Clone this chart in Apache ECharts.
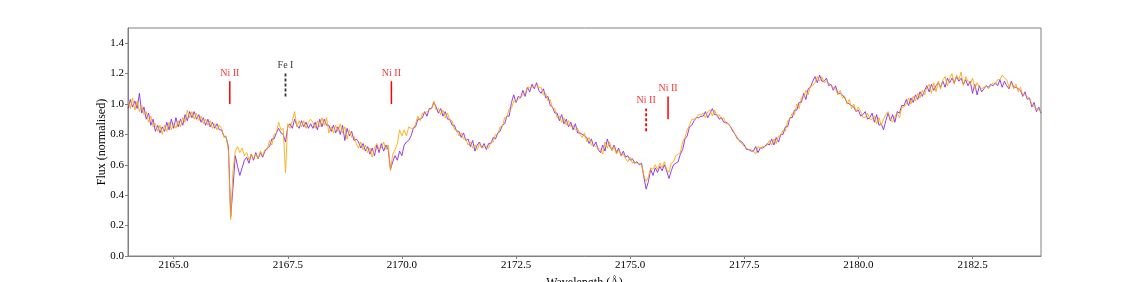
<!DOCTYPE html>
<html>
<head>
<meta charset="utf-8">
<script src="https://cdn.jsdelivr.net/npm/echarts@6/dist/echarts.min.js"></script>
<style>
html,body{margin:0;padding:0;background:#fff;}
#chart{width:1140px;height:282px;}
</style>
</head>
<body>
<div id="chart"></div>
<script>
// Wavelength grid (Å)
const waveStart = 2164.0;
const waveStep = 0.05;

// Spectrum 1 (purple)
const fluxPurple = [
0.97,1.03,0.98,1.02,0.97,1.07,0.94,0.98,0.90,0.94,0.86,0.90,0.82,0.86,0.81,0.85,0.82,0.88,0.83,0.90,0.84,
0.91,0.85,0.90,0.86,0.93,0.89,0.95,0.91,0.95,0.90,0.93,0.88,0.91,0.86,0.90,0.85,0.88,0.84,0.87,0.83,
0.83,0.79,0.78,0.72,0.26,0.45,0.66,0.59,0.53,0.58,0.63,0.65,0.61,0.67,0.63,0.68,0.64,0.68,0.65,0.69,
0.71,0.72,0.77,0.77,0.81,0.84,0.81,0.80,0.75,0.85,0.87,0.84,0.90,0.86,0.84,0.89,0.85,0.88,0.84,0.87,
0.84,0.88,0.83,0.90,0.85,0.90,0.86,0.86,0.82,0.86,0.81,0.85,0.80,0.86,0.76,0.84,0.79,0.82,0.76,0.77,
0.75,0.71,0.74,0.69,0.72,0.67,0.71,0.66,0.73,0.68,0.74,0.69,0.73,0.70,0.57,0.62,0.66,0.63,0.69,0.66,
0.73,0.75,0.76,0.79,0.84,0.85,0.90,0.90,0.91,0.95,0.92,0.97,0.97,1.01,0.98,0.94,0.97,0.92,0.95,0.90,
0.90,0.86,0.86,0.82,0.82,0.78,0.81,0.76,0.77,0.72,0.76,0.69,0.73,0.75,0.71,0.74,0.70,0.74,0.74,0.78,
0.77,0.81,0.82,0.86,0.87,0.92,0.92,1.01,1.06,1.01,1.05,1.04,1.09,1.05,1.11,1.08,1.13,1.10,1.14,1.09,
1.07,1.10,1.04,1.05,0.99,0.98,0.94,0.94,0.89,0.93,0.87,0.90,0.85,0.88,0.83,0.87,0.81,0.81,0.80,0.79,
0.78,0.74,0.77,0.72,0.75,0.70,0.68,0.73,0.69,0.77,0.72,0.70,0.73,0.68,0.71,0.66,0.69,0.65,0.66,0.63,
0.64,0.61,0.62,0.60,0.61,0.52,0.44,0.49,0.57,0.53,0.58,0.55,0.59,0.56,0.60,0.56,0.51,0.56,0.60,0.61,
0.62,0.67,0.70,0.77,0.79,0.85,0.86,0.89,0.91,0.91,0.92,0.92,0.95,0.91,0.94,0.97,0.93,0.93,0.90,0.91,
0.88,0.88,0.87,0.85,0.82,0.80,0.77,0.76,0.75,0.73,0.70,0.70,0.69,0.69,0.72,0.68,0.71,0.71,0.72,0.74,
0.73,0.77,0.73,0.78,0.75,0.80,0.80,0.85,0.85,0.91,0.91,0.96,0.96,1.01,1.01,1.07,1.03,1.10,1.11,1.15,
1.18,1.14,1.19,1.15,1.15,1.17,1.12,1.13,1.09,1.12,1.07,1.07,1.06,1.04,1.01,1.00,0.99,0.98,0.95,0.96,
0.92,0.93,0.95,0.90,0.91,0.94,0.88,0.93,0.86,0.87,0.83,0.89,0.94,0.89,0.93,0.88,0.95,0.94,0.99,0.99,
1.03,0.99,1.04,1.01,1.06,1.03,1.08,1.05,1.09,1.12,1.08,1.13,1.09,1.12,1.14,1.11,1.15,1.11,1.17,1.14,
1.17,1.14,1.18,1.15,1.17,1.13,1.16,1.12,1.15,1.07,1.13,1.06,1.12,1.08,1.10,1.12,1.11,1.13,1.12,1.14,
1.12,1.16,1.11,1.15,1.12,1.10,1.15,1.11,1.11,1.10,1.09,1.05,1.08,1.03,1.04,0.98,1.01,0.95,0.98,0.94
];

// Spectrum 2 (orange)
const fluxOrange = [
1.02,0.97,1.04,0.96,1.02,0.95,0.99,0.93,0.95,0.88,0.92,0.85,0.87,0.82,0.86,0.80,0.86,0.82,0.88,0.83,0.87,
0.84,0.89,0.85,0.91,0.88,0.96,0.91,0.95,0.90,0.94,0.89,0.92,0.87,0.90,0.86,0.89,0.84,0.87,0.83,0.86,
0.84,0.78,0.79,0.69,0.24,0.56,0.69,0.72,0.68,0.71,0.66,0.68,0.63,0.67,0.64,0.67,0.64,0.69,0.66,0.70,
0.70,0.76,0.73,0.80,0.81,0.88,0.83,0.84,0.55,0.87,0.84,0.89,0.95,0.85,0.89,0.85,0.89,0.84,0.88,0.90,
0.88,0.84,0.89,0.85,0.91,0.86,0.91,0.81,0.85,0.81,0.86,0.82,0.87,0.81,0.85,0.77,0.83,0.78,0.79,0.74,
0.71,0.75,0.70,0.73,0.68,0.71,0.65,0.71,0.74,0.70,0.71,0.75,0.70,0.73,0.56,0.67,0.70,0.74,0.83,0.79,
0.83,0.79,0.85,0.84,0.84,0.87,0.92,0.89,0.94,0.94,0.95,0.96,0.97,1.02,0.96,0.97,0.93,0.96,0.91,0.94,
0.89,0.89,0.83,0.83,0.79,0.81,0.77,0.77,0.73,0.75,0.71,0.73,0.70,0.74,0.71,0.72,0.72,0.71,0.75,0.75,
0.80,0.80,0.85,0.85,0.91,0.91,0.97,0.97,1.02,1.02,1.03,1.05,1.06,1.07,1.11,1.11,1.11,1.12,1.12,1.11,
1.11,1.06,1.07,1.02,1.03,0.97,0.97,0.91,0.92,0.88,0.91,0.86,0.89,0.85,0.86,0.83,0.84,0.80,0.78,0.81,
0.75,0.78,0.73,0.73,0.72,0.71,0.70,0.67,0.75,0.71,0.75,0.69,0.72,0.67,0.70,0.66,0.67,0.64,0.62,0.65,
0.61,0.62,0.61,0.61,0.60,0.53,0.49,0.52,0.58,0.57,0.60,0.57,0.61,0.58,0.62,0.57,0.55,0.61,0.62,0.66,
0.67,0.68,0.75,0.78,0.83,0.86,0.90,0.90,0.91,0.93,0.93,0.94,0.91,0.95,0.96,0.92,0.96,0.92,0.93,0.90,
0.91,0.87,0.87,0.85,0.83,0.80,0.78,0.75,0.74,0.72,0.71,0.70,0.70,0.69,0.67,0.72,0.71,0.72,0.72,0.73,
0.76,0.73,0.77,0.74,0.79,0.79,0.83,0.82,0.89,0.90,0.94,0.93,1.00,0.97,1.04,1.04,1.09,1.06,1.12,1.12,
1.14,1.18,1.15,1.18,1.14,1.15,1.14,1.12,1.11,1.10,1.06,1.09,1.04,1.05,1.00,1.03,0.97,1.00,0.95,0.98,
0.95,0.91,0.91,0.94,0.90,0.90,0.92,0.87,0.91,0.86,0.90,0.93,0.95,0.90,0.88,0.92,0.94,0.91,0.98,0.98,
1.00,1.04,1.00,1.05,1.02,1.07,1.04,1.09,1.06,1.11,1.13,1.07,1.14,1.08,1.15,1.10,1.16,1.18,1.12,1.17,
1.20,1.13,1.19,1.16,1.21,1.12,1.18,1.15,1.13,1.17,1.10,1.14,1.11,1.10,1.11,1.12,1.10,1.12,1.14,1.13,
1.16,1.16,1.19,1.17,1.16,1.11,1.14,1.10,1.13,1.08,1.11,1.06,1.06,1.05,1.03,1.00,0.98,0.97,0.96,0.95
];

// Axis tick labels
const xTicks = [2165.0, 2167.5, 2170.0, 2172.5, 2175.0, 2177.5, 2180.0, 2182.5];
const yTicks = [0.0, 0.2, 0.4, 0.6, 0.8, 1.0, 1.2, 1.4];

// Line identifications
const markerNames  = ['Ni II', 'Fe I', 'Ni II', 'Ni II', 'Ni II'];
const markerWaves  = [2166.23, 2167.45, 2169.77, 2175.35, 2175.83];
const markerLow    = [1.00, 1.05, 1.00, 0.82, 0.90];
const markerHigh   = [1.15, 1.20, 1.15, 0.97, 1.05];
const markerDashed = [false, true, false, true, false];
const markerColor  = ['#ff0000', '#333333', '#ff0000', '#ff0000', '#ff0000'];

const FONT = 'Liberation Serif';

function buildSeries(vals) {
  return vals.map((v, i) => [+(waveStart + i * waveStep).toFixed(2), v]);
}

const series = [
  {
    type: 'line', data: buildSeries(fluxPurple), showSymbol: false, symbol: 'none',
    lineStyle: { color: '#8a2be2', width: 1, opacity: 0.9 }, z: 2, silent: true
  },
  {
    type: 'line', data: buildSeries(fluxOrange), showSymbol: false, symbol: 'none',
    lineStyle: { color: '#ffa500', width: 1, opacity: 0.85 }, z: 3, silent: true
  }
];

markerWaves.forEach((w, k) => {
  series.push({
    type: 'line', data: [[w, markerLow[k]], [w, markerHigh[k]]], showSymbol: false, symbol: 'none',
    lineStyle: { color: markerColor[k], width: markerDashed[k] ? 1.8 : 1.5, type: markerDashed[k] ? [3, 2] : 'solid' },
    z: 4, silent: true
  });
  series.push({
    type: 'scatter', data: [[w, markerHigh[k]]], symbolSize: 0, silent: true, z: 5,
    label: {
      show: true, position: 'top', distance: 3, formatter: markerNames[k],
      color: markerColor[k] === '#333333' ? '#000' : markerColor[k], fontFamily: FONT, fontSize: 10
    }
  });
});

const chart = echarts.init(document.getElementById('chart'), null, { renderer: 'canvas' });
chart.setOption({
  animation: false,
  backgroundColor: '#ffffff',
  grid: {
    left: 128, right: 99, top: 28, bottom: 26, containLabel: false, outerBoundsMode: 'none',
    show: true, borderColor: '#808080', borderWidth: 1, backgroundColor: 'transparent'
  },
  xAxis: {
    type: 'value', min: 2164, max: 2184,
    name: 'Wavelength (Å)', nameLocation: 'middle', nameGap: 21, nameMoveOverlap: false,
    nameTextStyle: { fontFamily: FONT, fontSize: 12, color: '#000' },
    axisLine: { show: true, lineStyle: { color: '#808080' } },
    axisTick: { show: true, length: 3, lineStyle: { color: '#808080' }, customValues: xTicks },
    axisLabel: { fontFamily: FONT, fontSize: 11, color: '#000', margin: 4, customValues: xTicks, formatter: v => v.toFixed(1) },
    splitLine: { show: false }
  },
  yAxis: {
    type: 'value', min: 0, max: 1.5,
    name: 'Flux (normalised)', nameLocation: 'middle', nameGap: 20, nameRotate: 90, nameMoveOverlap: false,
    nameTextStyle: { fontFamily: FONT, fontSize: 12, color: '#000' },
    axisLine: { show: true, lineStyle: { color: '#808080' } },
    axisTick: { show: true, length: 3, lineStyle: { color: '#808080' }, customValues: yTicks },
    axisLabel: { fontFamily: FONT, fontSize: 11, color: '#000', margin: 4, customValues: yTicks, formatter: v => v.toFixed(1) },
    splitLine: { show: false }
  },
  series: series
});
</script>
</body>
</html>
